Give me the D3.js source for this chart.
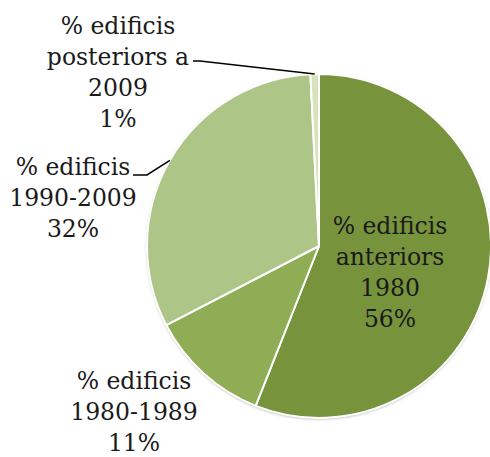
<!DOCTYPE html>
<html>
<head>
<meta charset="utf-8">
<script src="https://cdn.jsdelivr.net/npm/d3@7"></script>
<style>
  body { margin: 0; background: #fff; }
  svg text { font-family: "DejaVu Serif", serif; fill: #1a1a1a; }
</style>
</head>
<body>
<svg id="chart" width="490" height="457"></svg>
<script>
// shares of buildings by construction period (clockwise from 12 o'clock)
var categories = ['% edificis anteriors 1980', '% edificis 1980-1989', '% edificis 1990-2009', '% edificis posteriors a 2009'];
var values = [56.0, 11.4, 31.8, 0.8];
var labelLines = [
    ['% edificis', 'anteriors', '1980'],
    ['% edificis', '1980-1989'],
    ['% edificis', '1990-2009'],
    ['% edificis', 'posteriors a', '2009']
];
var colors = ['#77933c', '#8fad54', '#adc586', '#d6e3bc'];

var width = 490, height = 457;
var cx = 319, cy = 246, radius = 172;
var fontSize = 23.5, lineHeight = 31;

// label block placement, relative to pie center (dx = centre of text, dy = first baseline)
var labelLayout = [
    { dx: 71, dy: -12 },
    { dx: -185, dy: 143 },
    { dx: -246, dy: -71 },
    { dx: -201, dy: -212 }
];
// leader line bends (relative to pie center); null = no leader
var leaderLayout = [
    null,
    null,
    [[-172, -71], [-186, -71]],
    [[-119, -185], [-126, -185]]
];

var svg = d3.select('#chart');

var defs = svg.append('defs');
var shadow = defs.append('filter')
    .attr('id', 'shadow')
    .attr('x', '-10%').attr('y', '-10%')
    .attr('width', '120%').attr('height', '120%');
shadow.append('feDropShadow')
    .attr('dx', 0).attr('dy', 1)
    .attr('stdDeviation', 1.5)
    .attr('flood-color', '#000')
    .attr('flood-opacity', 0.35);

var pie = d3.pie().sort(null).value(function(d) { return d; });
var arcs = pie(values);

var arc = d3.arc().innerRadius(0).outerRadius(radius);
var edgeArc = d3.arc().innerRadius(radius).outerRadius(radius);

var g = svg.append('g')
    .attr('transform', 'translate(' + cx + ',' + cy + ')');

g.append('circle')
    .attr('r', radius)
    .attr('fill', '#fff')
    .attr('filter', 'url(#shadow)');

g.selectAll('path.slice')
    .data(arcs)
    .enter()
    .append('path')
    .attr('class', 'slice')
    .attr('d', arc)
    .attr('fill', function(d, i) { return colors[i]; })
    .attr('stroke', '#fff')
    .attr('stroke-width', 2)
    .attr('stroke-linejoin', 'round');

// leader lines
g.selectAll('polyline.leader')
    .data(arcs.filter(function(d, i) { return leaderLayout[i]; }))
    .enter()
    .append('polyline')
    .attr('class', 'leader')
    .attr('points', function(d) {
        var pts = [edgeArc.centroid(d)].concat(leaderLayout[d.index]);
        return pts.map(function(p) { return p.join(','); }).join(' ');
    })
    .attr('fill', 'none')
    .attr('stroke', '#000')
    .attr('stroke-width', 1.5);

// labels
var labels = g.selectAll('text.label')
    .data(arcs)
    .enter()
    .append('text')
    .attr('class', 'label')
    .attr('text-anchor', 'middle')
    .attr('font-size', fontSize);

labels.each(function(d, i) {
    var lines = labelLines[i].concat([Math.round(d.value) + '%']);
    var pos = labelLayout[i];
    d3.select(this).selectAll('tspan')
        .data(lines)
        .enter()
        .append('tspan')
        .attr('x', pos.dx)
        .attr('y', function(t, j) { return pos.dy + j * lineHeight; })
        .text(function(t) { return t; });
});
</script>
</body>
</html>
